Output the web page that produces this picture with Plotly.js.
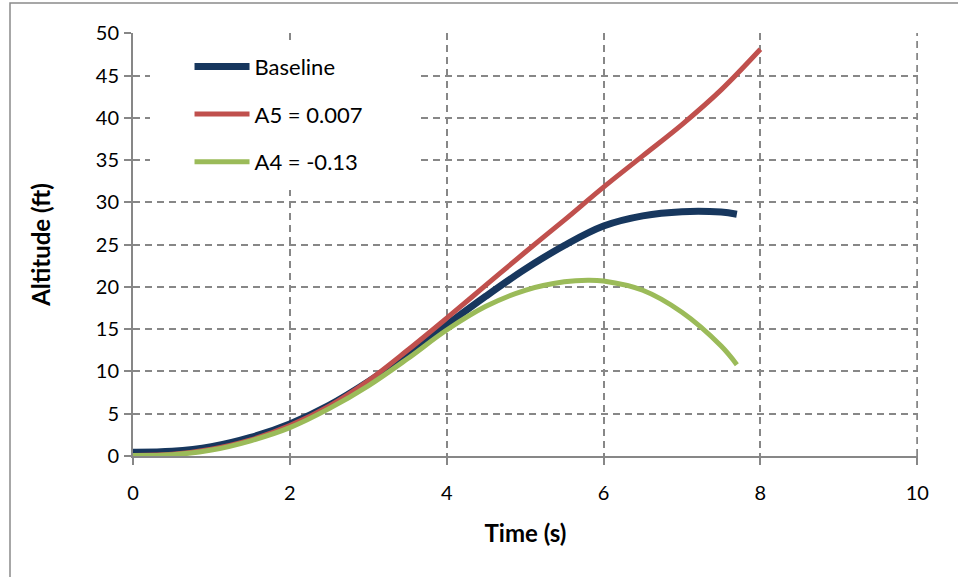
<!DOCTYPE html>
<html>
<head>
<meta charset="utf-8">
<script src="https://cdn.plot.ly/plotly-3.0.1.min.js"></script>
<style>html,body{margin:0;padding:0;background:#fff;}#chart{width:958px;height:577px;}</style>
</head>
<body>
<div id="chart"></div>
<script>
// Series names
const seriesNames = ["Baseline", "A5 = 0.007", "A4 = -0.13"];
// Time (s) and altitude (ft)
const timeBaseline = [0, 0.5, 1, 1.5, 2, 2.5, 3, 3.5, 4, 4.5, 5, 5.5, 6, 6.5, 7, 7.5, 7.7];
const altBaseline  = [0.45, 0.55, 1.1, 2.2, 3.8, 6.0, 8.8, 12.0, 15.5, 18.9, 22.1, 24.9, 27.2, 28.4, 28.9, 28.85, 28.6];
const timeA5 = [0, 0.5, 1, 1.5, 2, 2.5, 3, 3.5, 4, 4.5, 5, 5.5, 6, 6.5, 7, 7.5, 8];
const altA5  = [0.05, 0.2, 0.8, 1.9, 3.6, 5.9, 8.9, 12.5, 16.3, 20.2, 24.1, 27.9, 31.8, 35.5, 39.2, 43.3, 48.1];
const timeA4 = [0, 0.5, 1, 1.5, 2, 2.5, 3, 3.5, 4, 4.5, 5, 5.5, 5.8, 6, 6.5, 7, 7.5, 7.7];
const altA4  = [0.05, 0.15, 0.7, 1.8, 3.35, 5.6, 8.3, 11.5, 14.9, 17.7, 19.6, 20.6, 20.8, 20.7, 19.6, 17.0, 13.0, 10.8];
// Axis ticks
const xTicks = [0, 2, 4, 6, 8, 10];
const yTicks = [0, 5, 10, 15, 20, 25, 30, 35, 40, 45, 50];

const colors = ["#17375E", "#C0504D", "#9BBB59"];
const widths = [7, 5, 5];
const xs = [timeBaseline, timeA5, timeA4];
const ys = [altBaseline, altA5, altA4];

const traces = seriesNames.map((n, i) => ({
  x: xs[i], y: ys[i], name: n, type: "scatter", mode: "lines",
  legendgroup: "g" + i,
  line: {color: colors[i], width: widths[i], shape: "spline", smoothing: 1}
}));

const font = "Lato, 'Open Sans', sans-serif";
const gridColor = "#878787";
const xMax = xTicks[xTicks.length - 1];
const layout = {
  width: 958, height: 577,
  margin: {l: 133, r: 40, t: 33, b: 121},
  paper_bgcolor: "#fff", plot_bgcolor: "#fff",
  font: {family: font, size: 20, color: "#000"},
  showlegend: true,
  legend: {
    x: 0.072, y: 0.97, xanchor: "left", yanchor: "top",
    bgcolor: "rgba(0,0,0,0)", font: {family: font, size: 22, color: "#000"},
    traceorder: "grouped", tracegroupgap: 16, itemwidth: 55
  },
  xaxis: {
    range: [0, 10.01], tickvals: xTicks, ticktext: xTicks.map(String),
    showgrid: true, gridcolor: gridColor, griddash: "7px,5px", gridwidth: 2,
    showline: true, linecolor: gridColor, linewidth: 2,
    ticks: "outside", ticklen: 7, tickcolor: gridColor, tickwidth: 2,
    ticklabelstandoff: 11, zeroline: false,
    tickfont: {family: font, size: 20},
    title: {text: "<b>Time (s)</b>", font: {family: font, size: 24}, standoff: 22}
  },
  yaxis: {
    range: [0, 50.03], tickvals: yTicks, ticktext: yTicks.map(String),
    showgrid: true, gridcolor: gridColor, griddash: "7px,5px", gridwidth: 2,
    showline: true, linecolor: gridColor, linewidth: 2,
    ticks: "outside", ticklen: 7, tickcolor: gridColor, tickwidth: 2,
    ticklabelstandoff: 1, zeroline: false,
    tickfont: {family: font, size: 20},
    title: {text: "<b>Altitude (ft)</b>", font: {family: font, size: 24}, standoff: 38}
  },
  shapes: [
    {
      type: "rect", xref: "paper", yref: "paper",
      x0: (10 - 133) / 785, x1: 1.2, y0: -0.4, y1: (456 - 3) / 423,
      line: {color: "#8a8a8a", width: 1.5}, fillcolor: "rgba(0,0,0,0)", layer: "below"
    },
    {
      type: "line", xref: "x", yref: "paper", x0: xMax, x1: xMax, y0: 0, y1: 1,
      line: {color: gridColor, width: 2, dash: "7px,5px"}, layer: "below"
    },
    {
      type: "rect", xref: "paper", yref: "paper",
      x0: 17 / 785, x1: 284 / 785, y0: (456 - 190) / 423, y1: (456 - 40) / 423,
      line: {width: 0}, fillcolor: "#ffffff", layer: "above"
    }
  ]
};

Plotly.newPlot("chart", traces, layout, {displayModeBar: false, staticPlot: true});
</script>
</body>
</html>
